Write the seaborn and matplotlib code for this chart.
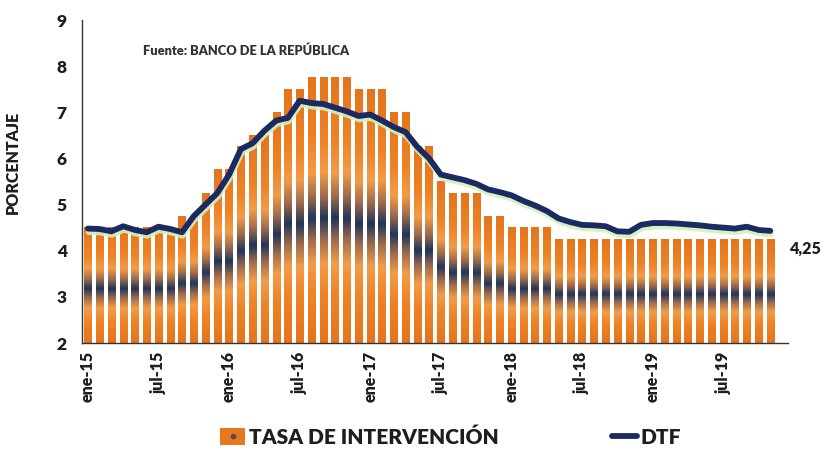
import numpy as np
import pandas as pd
import matplotlib
matplotlib.use("Agg")
import matplotlib.pyplot as plt
import seaborn as sns
from matplotlib.colors import LinearSegmentedColormap
from matplotlib.patches import Patch
from matplotlib.lines import Line2D
import matplotlib.patheffects as pe

# ---------------- data ----------------
month_abbr = ["ene", "feb", "mar", "abr", "may", "jun",
              "jul", "ago", "sep", "oct", "nov", "dic"]
years = ["15", "16", "17", "18", "19"]
categories = [f"{m}-{y}" for y in years for m in month_abbr]  # 60 months on the axis

tasa = [4.50, 4.50, 4.50, 4.50, 4.50, 4.50, 4.50, 4.50, 4.75, 4.75,
        5.25, 5.75, 5.75, 6.25, 6.50, 6.50, 7.00, 7.50, 7.50, 7.75,
        7.75, 7.75, 7.75, 7.50, 7.50, 7.50, 7.00, 7.00, 6.25, 6.25,
        5.50, 5.25, 5.25, 5.25, 4.75, 4.75, 4.50, 4.50, 4.50, 4.50,
        4.25, 4.25, 4.25, 4.25, 4.25, 4.25, 4.25, 4.25, 4.25, 4.25,
        4.25, 4.25, 4.25, 4.25, 4.25, 4.25, 4.25, 4.25, 4.25]

dtf = [4.48, 4.47, 4.42, 4.53, 4.45, 4.40, 4.52, 4.47, 4.40, 4.75,
       5.00, 5.25, 5.65, 6.20, 6.33, 6.60, 6.82, 6.88, 7.25, 7.20,
       7.18, 7.10, 7.02, 6.92, 6.95, 6.82, 6.68, 6.57, 6.25, 6.00,
       5.65, 5.59, 5.53, 5.45, 5.33, 5.27, 5.20, 5.08, 4.98, 4.86,
       4.70, 4.62, 4.56, 4.55, 4.53, 4.42, 4.41, 4.56, 4.60, 4.60,
       4.59, 4.57, 4.55, 4.52, 4.50, 4.48, 4.52, 4.45, 4.43]

yticks = [2, 3, 4, 5, 6, 7, 8, 9]
xtick_labels = categories[::6]

ORANGE = "#E8771E"
NAVY = "#1B2A63"
TXT = "#1e1e1e"

sns.set_style("white")
plt.rcParams["font.family"] = ["Lato", "DejaVu Sans"]

fig = plt.figure(figsize=(8.27, 4.49), dpi=100)
ax = fig.add_axes([82 / 827, 1 - 343 / 449, (788 - 82) / 827, (343 - 20) / 449])

df = pd.DataFrame({"mes": categories[:len(tasa)], "tasa": tasa})
sns.barplot(data=df, x="mes", y="tasa", order=categories, color=ORANGE,
            width=0.62, ax=ax, zorder=2)

ymin, ymax = 2, 9
cmap = LinearSegmentedColormap.from_list(
    "band",
    [(0.0, "#E5741C"), (0.18, "#EE8326"), (0.30, "#F39C48"),
     (0.39, "#9C6A4C"), (0.47, "#1F355A"), (0.55, "#9C6A4C"),
     (0.64, "#F39C48"), (0.76, "#EE8326"), (1.0, "#E5741C")])
grad = np.linspace(0, 1, 256).reshape(-1, 1)
for p in list(ax.patches):
    h = p.get_height()
    if not np.isfinite(h) or h <= 0:
        continue
    x0, w = p.get_x(), p.get_width()
    ax.imshow(grad, extent=[x0, x0 + w, ymin, h], origin="lower",
              aspect="auto", cmap=cmap, interpolation="bicubic", zorder=2)
    p.set_facecolor("none")
    p.set_edgecolor("none")

xs = np.arange(len(dtf))
sns.lineplot(x=xs, y=dtf, ax=ax, color=NAVY, lw=4.2, sort=False, zorder=4,
             solid_capstyle="round", solid_joinstyle="round",
             path_effects=[pe.SimpleLineShadow(offset=(0.5, -2.5),
                                               shadow_color="#d3f0bd",
                                               alpha=0.9),
                           pe.Normal()])

ax.set_xlim(-0.5, len(categories) - 0.5)
ax.set_ylim(ymin, ymax)

# axes styling
for s in ["top", "right"]:
    ax.spines[s].set_visible(False)
for s in ["left", "bottom"]:
    ax.spines[s].set_color("#333333")
    ax.spines[s].set_linewidth(1.0)

ax.set_yticks(yticks)
ax.set_yticklabels([str(v) for v in yticks], fontsize=12.5, fontweight="heavy", color=TXT)
ax.tick_params(axis="y", direction="out", length=4, width=1, color="#333333", pad=7)

ax.set_xticks(np.arange(-0.5, len(categories), 6))
ax.set_xticklabels([])
ax.tick_params(axis="x", which="major", direction="out", length=5, width=1,
               color="#333333")
ax.set_xticks(np.arange(0, len(categories), 6), minor=True)
ax.set_xticklabels(xtick_labels, minor=True, rotation=90, fontsize=11.5,
                   fontweight="heavy", color=TXT)
ax.tick_params(axis="x", which="minor", length=0, pad=6)

ax.set_xlabel("")
ax.set_ylabel("PORCENTAJE", fontsize=11.5, fontweight="heavy", color=TXT)
ax.yaxis.set_label_coords(-0.086, 0.56)

ax.text(0.086, 0.904, "Fuente: BANCO DE LA REPÚBLICA", transform=ax.transAxes,
        fontsize=9.3, fontweight="heavy", color="#333333", va="center", ha="left")

last = tasa[-1]
ax.annotate(f"{last:.2f}".replace(".", ","), xy=(len(tasa) - 1, last),
            xytext=(14, -7), textcoords="offset points", fontsize=11.5,
            fontweight="heavy", color=TXT, va="center", ha="left",
            annotation_clip=False)

h_bar = (Patch(facecolor=ORANGE, edgecolor="none"),
         Line2D([], [], marker="o", ls="", color="#5a4a4a", markersize=3))
h_line = Line2D([], [], color=NAVY, lw=4.2, solid_capstyle="round")
fig.legend([h_bar, h_line], ["TASA DE INTERVENCIÓN", "DTF"],
           loc="center", bbox_to_anchor=(0.545, 0.027), ncol=2, frameon=False,
           prop={"size": 15, "weight": "heavy"}, labelcolor=TXT,
           handlelength=1.2, handleheight=0.9, handletextpad=0.2,
           columnspacing=5.4)

fig.savefig("out.png", dpi=100)
